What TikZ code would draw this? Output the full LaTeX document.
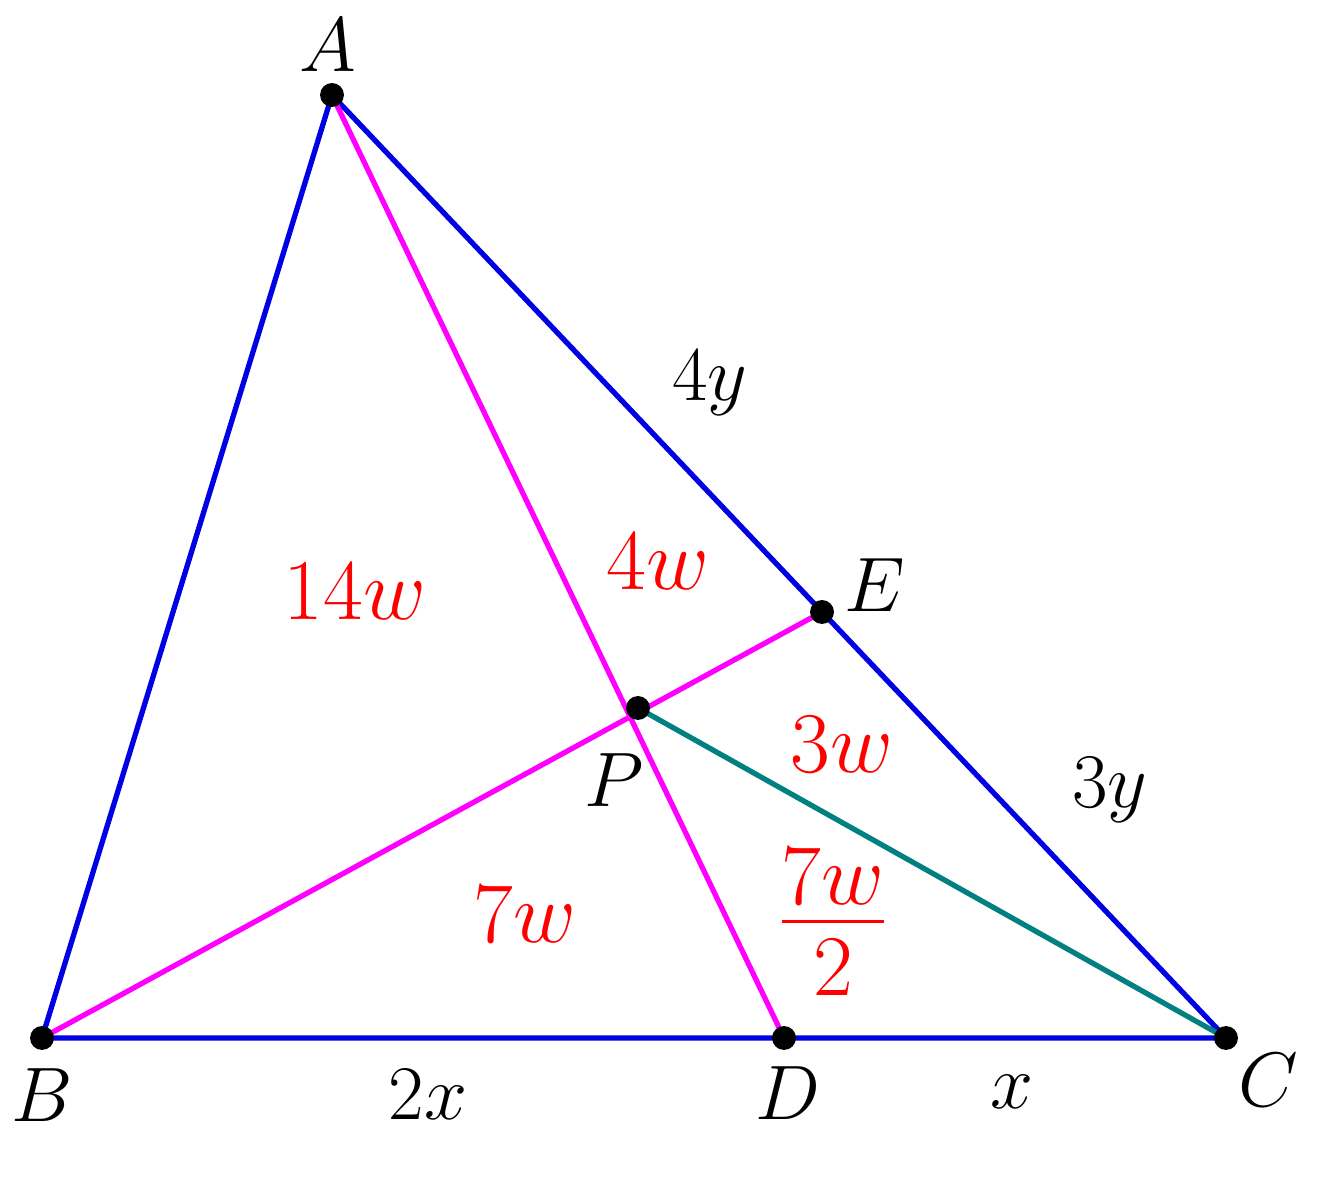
\documentclass[tikz,border=0pt]{standalone}
\usepackage{amsmath}
\definecolor{segpink}{rgb}{1,0,1}
\definecolor{segblue}{rgb}{0,0,0.9}
\begin{document}
\begin{tikzpicture}[x=10mm, y=10mm, every node/.style={font=\huge, scale=1.06}]
	\tikzset{side/.style={segblue, line width=1.5pt}, cevian/.style={segpink, line width=1.5pt}, area/.style={red, scale=1.12}}
	\useasboundingbox (0,0) rectangle (13.19,11.92);
	\coordinate (A) at (3.32,10.97);
	\coordinate (B) at (0.42,1.54);
	\coordinate (C) at (12.26,1.54);
	\coordinate (D) at (7.84,1.54);
	\coordinate (E) at (8.22,5.80);
	\coordinate (P) at (6.38,4.84);
	\draw [side] (B) -- (A) -- (C) -- cycle;
	\draw [cevian] (A) -- (D);
	\draw [cevian] (B) -- (E);
	\draw [teal, line width=1.5pt] (P) -- (C);
	\foreach \p in {A,B,C,D,E,P}{
		\fill (\p) circle (3.4pt);
	}
	\node (lA) at (3.28,11.47) {$A$};
	\node (lB) at (0.42,0.97) {$B$};
	\node (lC) at (12.68,1.12) {$C$};
	\node (lD) at (7.88,0.99) {$D$};
	\node (lE) at (8.75,6.07) {$E$};
	\node (lP) at (6.14,4.12) {$P$};
	\node (sAE) at (7.10,8.09) {$4y$};
	\node (sEC) at (11.10,4.02) {$3y$};
	\node (sBD) at (4.28,0.97) {$2x$};
	\node (sDC) at (10.12,1.00) {$x$};
	\node [area] (aABP) at (3.55,6.00) {$14w$};
	\node [area] (aAPE) at (6.58,6.30) {$4w$};
	\node [area] (aPEC) at (8.42,4.47) {$3w$};
	\node [area] (aBPD) at (5.25,2.77) {$7w$};
	\node [area] (aPDC) at (8.33,2.70) {$\genfrac{}{}{}{1}{\textstyle 7w\rule[-0.14em]{0pt}{0pt}}{\textstyle 2\rule{0pt}{0.8em}}$};
\end{tikzpicture}
\end{document}
